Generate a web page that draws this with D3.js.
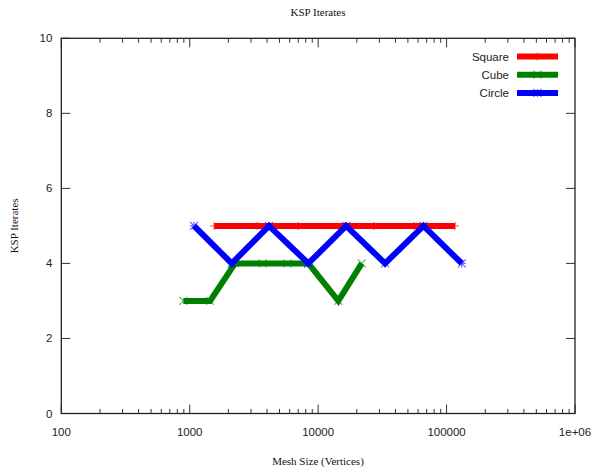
<!DOCTYPE html>
<html>
<head>
<meta charset="utf-8">
<script src="https://cdn.jsdelivr.net/npm/d3@7"></script>
<style>
  html, body { margin: 0; padding: 0; background: #fff; }
  svg { display: block; }
  .tick-label { font-family: "Liberation Sans", Arial, sans-serif; font-size: 11.5px; fill: #222; }
  .serif { font-family: "Liberation Serif", "DejaVu Serif", serif; font-size: 11px; fill: #111; }
</style>
</head>
<body>
<svg id="chart" width="595" height="467"></svg>
<script>
// Iteration counts of the Krylov solver versus mesh size
const squareSizes = [1550, 3340, 6970, 16200, 27200, 55800, 116500];
const squareIters = [5, 5, 5, 5, 5, 5, 5];

const cubeSizes = [892, 1440, 2250, 3700, 5780, 8390, 14360, 21860];
const cubeIters = [3, 3, 4, 4, 4, 4, 3, 4];

const circleSizes = [1080, 2124, 4146, 8388, 16520, 33190, 66070, 131300];
const circleIters = [5, 4, 5, 4, 5, 4, 5, 4];

const xTickValues = [100, 1000, 10000, 100000, 1000000];
const xTickLabels = ["100", "1000", "10000", "100000", "1e+06"];
const yTickValues = [0, 2, 4, 6, 8, 10];

const series = [
  { name: "Square", color: "#ff0000", marker: "plus",  xs: squareSizes, ys: squareIters },
  { name: "Cube",   color: "#008000", marker: "cross", xs: cubeSizes,   ys: cubeIters },
  { name: "Circle", color: "#0000ff", marker: "star",  xs: circleSizes, ys: circleIters }
];

const svg = d3.select("#chart");
const plotLeft = 61.3, plotRight = 575, plotTop = 38.3, plotBottom = 413.5;

const x = d3.scaleLog().domain([100, 1e6]).range([plotLeft, plotRight]);
const y = d3.scaleLinear().domain([0, 10]).range([plotBottom, plotTop]);

const frame = svg.append("g");

// minor and major x ticks, on bottom and mirrored on top
const minorX = [];
for (let e = 2; e < 6; e++) {
  for (let m = 2; m <= 9; m++) minorX.push(m * Math.pow(10, e));
}
const tickStroke = "#333";
function vTicks(values, y0, len) {
  frame.selectAll(null).data(values).enter().append("line")
    .attr("x1", d => x(d)).attr("x2", d => x(d))
    .attr("y1", y0).attr("y2", y0 + len)
    .attr("stroke", tickStroke).attr("stroke-width", 1);
}
vTicks(minorX, plotBottom, -4.5);
vTicks(minorX, plotTop, 4.5);
vTicks(xTickValues, plotBottom, -9);
vTicks(xTickValues, plotTop, 9);

// y ticks, left and mirrored on right
function hTicks(x0, len) {
  frame.selectAll(null).data(yTickValues).enter().append("line")
    .attr("x1", x0).attr("x2", x0 + len)
    .attr("y1", d => y(d)).attr("y2", d => y(d))
    .attr("stroke", tickStroke).attr("stroke-width", 1);
}
hTicks(plotLeft, 9);
hTicks(plotRight, -9);

// border
frame.append("rect")
  .attr("x", plotLeft).attr("y", plotTop)
  .attr("width", plotRight - plotLeft).attr("height", plotBottom - plotTop)
  .attr("fill", "none").attr("stroke", "#222").attr("stroke-width", 1.3);

// tick labels
svg.selectAll(null).data(xTickValues).enter().append("text")
  .attr("class", "tick-label")
  .attr("x", d => x(d)).attr("y", plotBottom + 22)
  .attr("text-anchor", "middle")
  .text((d, i) => xTickLabels[i]);
svg.selectAll(null).data(yTickValues).enter().append("text")
  .attr("class", "tick-label")
  .attr("x", plotLeft - 9).attr("y", d => y(d) + 4)
  .attr("text-anchor", "end")
  .text(d => d);

// titles
svg.append("text").attr("class", "serif")
  .attr("x", 318).attr("y", 16).attr("text-anchor", "middle")
  .text("KSP Iterates");
svg.append("text").attr("class", "serif")
  .attr("x", 318).attr("y", 465).attr("text-anchor", "middle")
  .text("Mesh Size (Vertices)");
svg.append("text").attr("class", "serif")
  .attr("transform", `translate(18, ${(plotTop + plotBottom) / 2}) rotate(-90)`)
  .attr("text-anchor", "middle")
  .text("KSP Iterates");

// marker path generator
function markerPath(type, r) {
  const p = d3.path();
  if (type === "plus" || type === "star") {
    p.moveTo(-r, 0); p.lineTo(r, 0);
    p.moveTo(0, -r); p.lineTo(0, r);
  }
  if (type === "cross" || type === "star") {
    p.moveTo(-r, -r); p.lineTo(r, r);
    p.moveTo(-r, r); p.lineTo(r, -r);
  }
  return p.toString();
}

const line = d3.line().x(d => x(d[0])).y(d => y(d[1]));
const plot = svg.append("g");

series.forEach(s => {
  const pts = s.xs.map((v, i) => [v, s.ys[i]]);
  plot.append("path")
    .attr("d", line(pts))
    .attr("fill", "none")
    .attr("stroke", s.color)
    .attr("stroke-width", 6)
    .attr("stroke-linejoin", "miter")
    .attr("stroke-linecap", "butt");
  plot.selectAll(null).data(pts).enter().append("path")
    .attr("transform", d => `translate(${x(d[0])},${y(d[1])})`)
    .attr("d", markerPath(s.marker, 4))
    .attr("fill", "none")
    .attr("stroke", s.color)
    .attr("stroke-opacity", 0.6)
    .attr("stroke-width", 1.2);
});

// legend
const legend = svg.append("g");
series.forEach((s, i) => {
  const ly = 56.5 + i * 18.2;
  legend.append("text").attr("class", "tick-label")
    .attr("x", 509).attr("y", ly + 4)
    .attr("text-anchor", "end")
    .text(s.name);
  legend.append("line")
    .attr("x1", 517).attr("x2", 558)
    .attr("y1", ly).attr("y2", ly)
    .attr("stroke", s.color).attr("stroke-width", 6);
  legend.append("path")
    .attr("transform", `translate(537.5,${ly})`)
    .attr("d", markerPath(s.marker, 4))
    .attr("fill", "none")
    .attr("stroke", s.color)
    .attr("stroke-opacity", 0.6)
    .attr("stroke-width", 1.2);
});
</script>
</body>
</html>
